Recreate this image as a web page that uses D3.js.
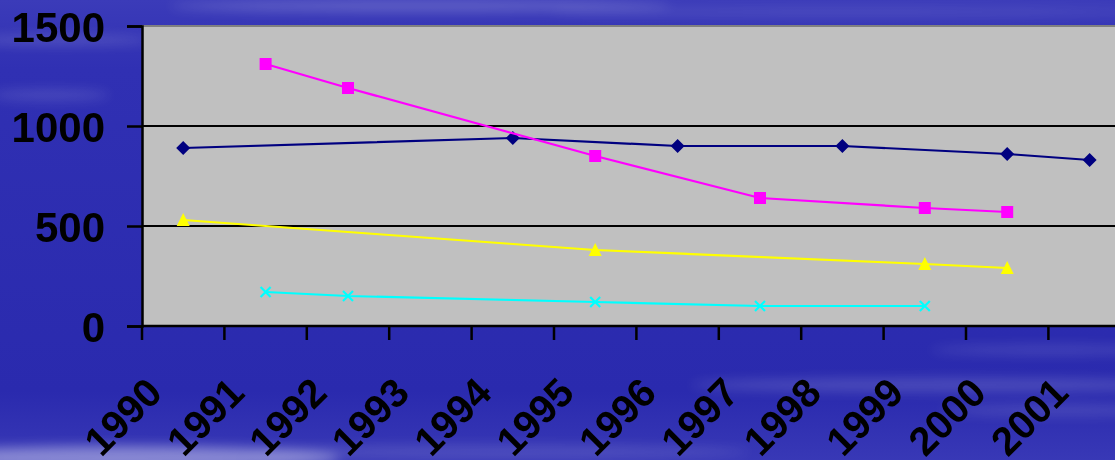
<!DOCTYPE html>
<html><head><meta charset="utf-8">
<script src="https://cdn.jsdelivr.net/npm/d3@7/dist/d3.min.js"></script>
<style>html,body{margin:0;padding:0;overflow:hidden;background:#2c2cb0}</style>
</head><body>
<svg id="chart" width="1115" height="460"></svg>
<script>
const years = ["1990","1991","1992","1993","1994","1995","1996","1997","1998","1999","2000","2001"];
const yTicks = [0, 500, 1000, 1500];
const navySeries    = [890, null, null, null, 940, null, 900, null, 900, null, 860, 830];
const magentaSeries = [null, 1310, 1190, null, null, 850, null, 640, null, 590, 570, null];
const yellowSeries  = [530, null, null, null, null, 380, null, null, null, 310, 290, null];
const cyanSeries    = [null, 170, 150, null, null, 120, null, 100, null, 100, null, null];

(function(){
const svg = d3.select("#chart");
const W = 1115, H = 460;
const pLeft = 142, pTop = 26, pBottom = 326, band = 82.4;

// background
const defs = svg.append("defs");
const bg = defs.append("linearGradient").attr("id","bg").attr("x1",0).attr("y1",0).attr("x2",0).attr("y2",1);
bg.append("stop").attr("offset","0%").attr("stop-color","#3b3bb9");
bg.append("stop").attr("offset","15%").attr("stop-color","#3030b3");
bg.append("stop").attr("offset","85%").attr("stop-color","#2a2aae");
bg.append("stop").attr("offset","100%").attr("stop-color","#3838b6");
const blur = defs.append("filter").attr("id","blur").attr("x","-50%").attr("y","-50%").attr("width","200%").attr("height","200%");
blur.append("feGaussianBlur").attr("stdDeviation",6);
svg.append("rect").attr("width",W).attr("height",H).attr("fill","url(#bg)");
const streaks = svg.append("g").attr("filter","url(#blur)").attr("fill","#ffffff");
[[420,6,250,6,0.2],[60,40,90,5,0.15],[850,12,300,5,0.1],[50,95,60,6,0.12],
 [120,458,220,12,0.4],[950,385,260,7,0.16],[1060,410,120,6,0.12],[1050,350,120,5,0.12],[500,452,250,7,0.12]]
 .forEach(s=>streaks.append("ellipse").attr("cx",s[0]).attr("cy",s[1]).attr("rx",s[2]).attr("ry",s[3]).attr("opacity",s[4]));

const x = d3.scaleBand().domain(years).range([pLeft, pLeft + band*years.length]).padding(0);
const y = d3.scaleLinear().domain([0,1500]).range([pBottom, pTop]);
const cx = d => x(d) + x.bandwidth()/2;

// plot area
svg.append("rect").attr("x",pLeft).attr("y",pTop).attr("width",band*years.length).attr("height",pBottom-pTop).attr("fill","#c0c0c0");

// gridlines
svg.append("g").selectAll("line").data(yTicks.filter(t=>t>0)).join("line")
  .attr("x1",pLeft).attr("x2",pLeft+band*years.length)
  .attr("y1",d=>y(d)).attr("y2",d=>y(d))
  .attr("stroke",d=>d===1500?"#808080":"#000").attr("stroke-width",2);

// y axis
const yAxis = svg.append("g").attr("transform",`translate(${pLeft},0)`)
  .call(d3.axisLeft(y).tickValues(yTicks).tickSize(15).tickPadding(22).tickFormat(d3.format("d")));
yAxis.select(".domain").attr("stroke","#000").attr("stroke-width",2.5);
yAxis.selectAll(".tick line").attr("stroke","#000").attr("stroke-width",2.5);
yAxis.selectAll(".tick text").attr("font-family","Liberation Sans, Arial, sans-serif")
  .attr("font-weight","bold").attr("font-size",42).attr("fill","#000").attr("dy","0.36em");

// x axis: ticks at band boundaries
const xAxis = svg.append("g").attr("transform",`translate(0,${pBottom})`)
  .call(d3.axisBottom(x).tickSize(0).tickFormat(d=>d));
xAxis.select(".domain").remove();
xAxis.append("line").attr("x1",pLeft).attr("x2",pLeft+band*years.length).attr("y1",0).attr("y2",0)
  .attr("stroke","#000").attr("stroke-width",2.5);
xAxis.selectAll(".edge").data(years).join("line").attr("class","edge")
  .attr("x1",d=>x(d)).attr("x2",d=>x(d)).attr("y1",0).attr("y2",14)
  .attr("stroke","#000").attr("stroke-width",2.5);
xAxis.selectAll(".tick text")
  .attr("font-family","Liberation Sans, Arial, sans-serif").attr("font-weight","bold")
  .attr("font-size",40).attr("fill","#000")
  .attr("text-anchor","end").attr("y",0).attr("dy",0)
  .attr("transform","translate(-19,69) rotate(-45)");

// series
const seriesList = [
  {vals:navySeries, color:"#000080", marker:"diamond"},
  {vals:magentaSeries, color:"#ff00ff", marker:"square"},
  {vals:yellowSeries, color:"#ffff00", marker:"triangle"},
  {vals:cyanSeries, color:"#00ffff", marker:"x"}
];
const line = d3.line().x(d=>cx(d.year)).y(d=>y(d.v));
seriesList.forEach(s=>{
  const pts = years.map((yr,i)=>({year:yr, v:s.vals[i]})).filter(d=>d.v!=null);
  const g = svg.append("g");
  g.append("path").datum(pts).attr("d",line).attr("fill","none").attr("stroke",s.color).attr("stroke-width",2.2);
  const m = g.selectAll(".m").data(pts).join("path").attr("class","m")
    .attr("transform",d=>`translate(${cx(d.year)},${y(d.v)})`);
  if (s.marker==="diamond") m.attr("d","M0,-7L7,0L0,7L-7,0Z").attr("fill",s.color);
  if (s.marker==="square") m.attr("d","M-6,-6H6V6H-6Z").attr("fill",s.color);
  if (s.marker==="triangle") m.attr("d","M0,-7L6.5,6L-6.5,6Z").attr("fill",s.color);
  if (s.marker==="x") m.attr("d","M-5,-5L5,5M5,-5L-5,5").attr("fill","none").attr("stroke",s.color).attr("stroke-width",2.2);
});
})();
</script>
</body></html>
